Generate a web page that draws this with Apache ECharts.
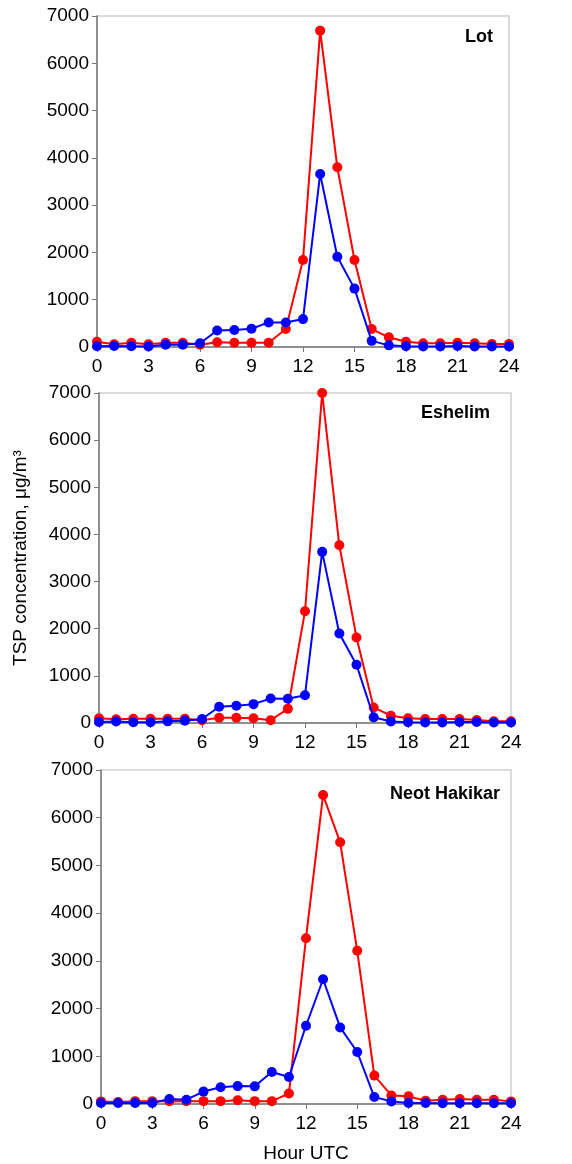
<!DOCTYPE html>
<html>
<head>
<meta charset="utf-8">
<script src="https://cdn.jsdelivr.net/npm/echarts@6/dist/echarts.min.js"></script>
<style>
html,body{margin:0;padding:0;background:#fff;}
#chart{width:572px;height:1164px;}
</style>
</head>
<body>
<div id="chart"></div>
<script>
const hours = [0,1,2,3,4,5,6,7,8,9,10,11,12,13,14,15,16,17,18,19,20,21,22,23,24];
const xTicks = [0,3,6,9,12,15,18,21,24];
const yTicks = [0,1000,2000,3000,4000,5000,6000,7000];
const stations = ["Lot", "Eshelim", "Neot Hakikar"];

const lotRed   = [110,60,90,60,90,90,50,100,90,90,90,380,1840,6690,3800,1840,380,205,110,80,80,90,80,65,65];
const lotBlue  = [15,20,15,10,50,50,80,350,360,385,520,520,590,3660,1910,1235,130,35,15,10,10,20,10,10,10];
const eshRed   = [100,80,90,90,90,90,60,110,110,100,60,300,2370,7000,3770,1815,330,155,100,85,85,85,65,35,35];
const eshBlue  = [20,30,15,15,35,50,85,345,365,400,520,515,590,3630,1900,1235,120,30,15,10,10,20,20,10,10];
const neotRed  = [55,40,60,60,60,60,60,60,80,60,60,220,3475,6475,5485,3210,595,180,160,70,90,105,90,90,55];
const neotBlue = [20,20,20,20,105,90,260,350,375,370,670,565,1640,2615,1605,1090,145,55,20,20,15,15,15,15,15];

const redSeries = [lotRed, eshRed, neotRed];
const blueSeries = [lotBlue, eshBlue, neotBlue];

const grids = [
  {left: 97, top: 16, width: 412, height: 331},
  {left: 99, top: 393, width: 412, height: 330},
  {left: 101, top: 770, width: 410, height: 334}
];
const titleRight = [11, 16, 6];
const titleTop = [7, 6, 10];
const font = "'Liberation Sans', Arial, Helvetica, sans-serif";

const option = {
  backgroundColor: '#fff',
  animation: false,
  grid: grids.map(g => Object.assign({show: true, borderColor: '#d0d0d0', borderWidth: 1.5, backgroundColor: 'transparent', containLabel: false, outerBoundsMode: 'none'}, g)),
  title: stations.map((s, i) => ({
    text: s,
    right: 572 - (grids[i].left + grids[i].width) + titleRight[i],
    top: grids[i].top + titleTop[i],
    textStyle: {fontFamily: font, fontWeight: 'bold', fontSize: 18, color: '#000'}
  })),
  xAxis: grids.map((g, i) => ({
    type: 'value', gridIndex: i, min: 0, max: 24, interval: 3,
    axisLine: {show: true, onZero: false, lineStyle: {color: '#777', width: 1.5}},
    axisTick: {show: true, length: 5, lineStyle: {color: '#777'}},
    splitLine: {show: false},
    axisLabel: {fontFamily: font, fontSize: 19, color: '#000', margin: 10,
      formatter: v => xTicks.includes(v) ? String(v) : ''},
    name: i === 2 ? 'Hour UTC' : '',
    nameLocation: 'middle', nameGap: 40,
    nameTextStyle: {fontFamily: font, fontSize: 19, color: '#000'}
  })),
  yAxis: grids.map((g, i) => ({
    type: 'value', gridIndex: i, min: 0, max: 7000, interval: 1000,
    axisLine: {show: true, lineStyle: {color: '#777', width: 1.5}},
    axisTick: {show: true, length: 5, lineStyle: {color: '#777'}},
    splitLine: {show: false},
    axisLabel: {fontFamily: font, fontSize: 19, color: '#000', margin: 8,
      formatter: v => yTicks.includes(v) ? String(v) : ''},
    name: i === 1 ? 'TSP concentration, μg/m³' : '',
    nameLocation: 'middle', nameGap: 69,
    nameTextStyle: {fontFamily: font, fontSize: 19, color: '#000'}
  })),
  series: []
};

for (let i = 0; i < 3; i++) {
  option.series.push({
    type: 'line', xAxisIndex: i, yAxisIndex: i,
    data: hours.map((h, k) => [h, redSeries[i][k]]),
    symbol: 'circle', symbolSize: 10, showSymbol: true,
    lineStyle: {color: '#ff0000', width: 2},
    itemStyle: {color: '#ff0000'},
    z: 2
  });
  option.series.push({
    type: 'line', xAxisIndex: i, yAxisIndex: i,
    data: hours.map((h, k) => [h, blueSeries[i][k]]),
    symbol: 'circle', symbolSize: 10, showSymbol: true,
    lineStyle: {color: '#0000ff', width: 2},
    itemStyle: {color: '#0000ff'},
    z: 3
  });
}

const chart = echarts.init(document.getElementById('chart'), null, {renderer: 'canvas'});
chart.setOption(option);
</script>
</body>
</html>
